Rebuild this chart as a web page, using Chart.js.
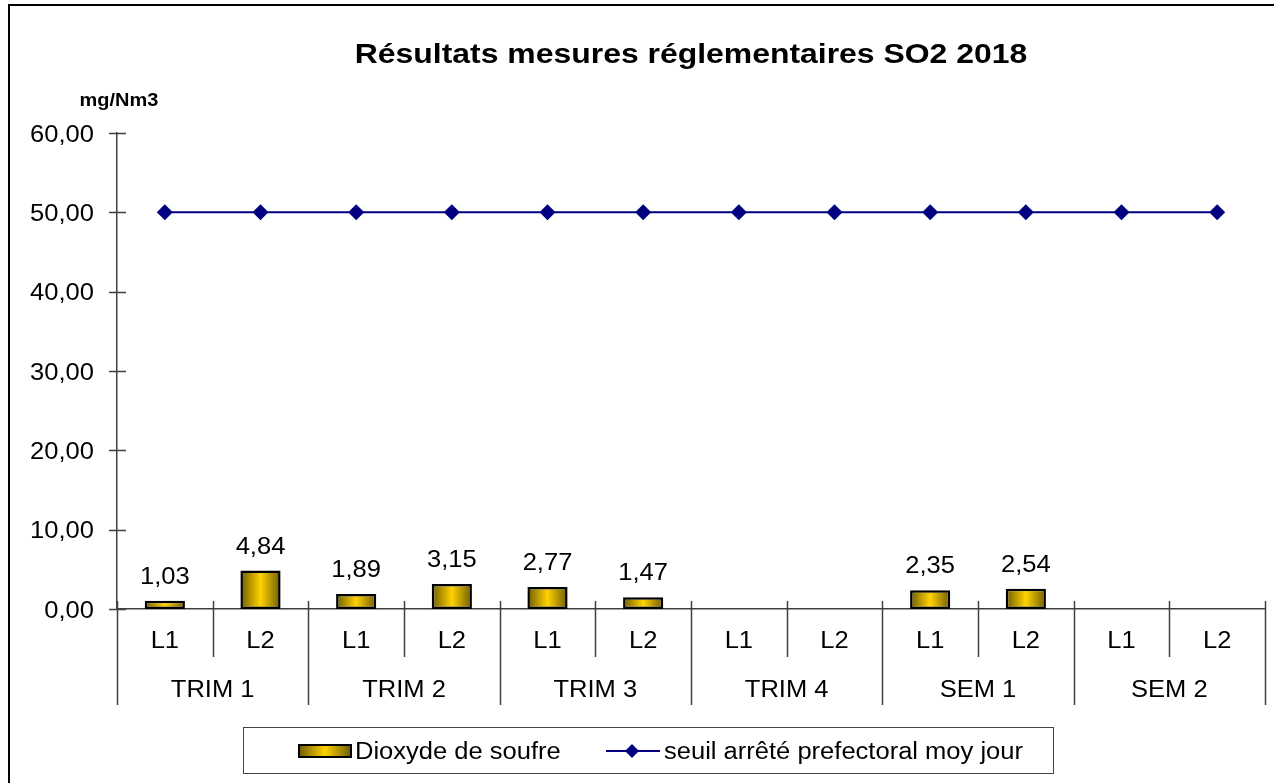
<!DOCTYPE html>
<html>
<head>
<meta charset="utf-8">
<script src="https://cdn.jsdelivr.net/npm/chart.js@4.4.1/dist/chart.umd.min.js"></script>
<style>
html,body{margin:0;padding:0;background:#fff;}
#wrap{position:relative;width:1274px;height:783px;}
canvas{display:block;}
</style>
</head>
<body>
<div id="wrap"><canvas id="c" width="1274" height="783"></canvas></div>
<script>
const subLabels = ['L1','L2','L1','L2','L1','L2','L1','L2','L1','L2','L1','L2'];
const groupLabels = ['TRIM 1','TRIM 2','TRIM 3','TRIM 4','SEM 1','SEM 2'];
const so2Values = [1.03, 4.84, 1.89, 3.15, 2.77, 1.47, null, null, 2.35, 2.54, null, null];
const thresholdValues = [50, 50, 50, 50, 50, 50, 50, 50, 50, 50, 50, 50];
const yTicks = [0, 10, 20, 30, 40, 50, 60];
const titleText = 'Résultats mesures réglementaires SO2 2018';
const unitText = 'mg/Nm3';
const seriesNames = ['Dioxyde de soufre', 'seuil arrêté prefectoral moy jour'];

const FONT = '"Liberation Sans", Arial, sans-serif';
const AXIS = '#404040';
const SX = 1.11;
const fmt = v => v.toFixed(2).replace('.', ',');

function txt(c, s, x, y, align, sx) {
  c.save();
  c.translate(x, y);
  c.scale(sx || SX, 1);
  c.textAlign = align;
  c.textBaseline = 'alphabetic';
  c.fillText(s, 0, 0);
  c.restore();
}

function makeGrad(c, x, w) {
  const g = c.createLinearGradient(x - w, 0, x + w, 0);
  g.addColorStop(0, '#6E5C00');
  g.addColorStop(0.5, '#FFD200');
  g.addColorStop(1, '#6E5C00');
  return g;
}

function barGradient(ctx) {
  const chart = ctx.chart;
  const xs = chart.scales.x;
  if (!xs || !chart.chartArea) return '#FFCC00';
  return makeGrad(chart.ctx, xs.getPixelForValue(ctx.dataIndex), 20);
}

const decor = {
  id: 'decor',
  beforeDraw(chart) {
    const c = chart.ctx;
    c.save();
    c.fillStyle = '#fff';
    c.fillRect(0, 0, chart.width, chart.height);
    c.strokeStyle = '#000';
    c.lineWidth = 2;
    c.strokeRect(9, 5, chart.width + 20, chart.height + 20);
    c.restore();
  },
  afterDraw(chart) {
    const c = chart.ctx;
    const xs = chart.scales.x, ys = chart.scales.y;
    const area = chart.chartArea;
    const y0 = ys.getPixelForValue(0);
    c.save();
    c.fillStyle = '#000';
    c.font = 'bold 28px ' + FONT;
    txt(c, titleText, (area.left + area.right) / 2, 63, 'center', 1.14);
    c.font = 'bold 18px ' + FONT;
    txt(c, unitText, 119, 106, 'center');
    c.font = '23px ' + FONT;
    yTicks.forEach(t => txt(c, fmt(t), 94, ys.getPixelForValue(t) + 8.5, 'right'));
    subLabels.forEach((s, i) => txt(c, s, xs.getPixelForValue(i), 648, 'center'));
    groupLabels.forEach((g, k) => {
      const x = (xs.getPixelForValue(2 * k) + xs.getPixelForValue(2 * k + 1)) / 2;
      txt(c, g, x, 697, 'center');
    });
    so2Values.forEach((v, i) => {
      if (v === null) return;
      txt(c, fmt(v), xs.getPixelForValue(i), ys.getPixelForValue(v) - 17, 'center');
    });
    c.strokeStyle = AXIS;
    c.lineWidth = 1.5;
    c.beginPath();
    yTicks.forEach(t => {
      const y = Math.round(ys.getPixelForValue(t)) + 0.5;
      c.moveTo(area.left - 8, y);
      c.lineTo(area.left + 9, y);
    });
    c.moveTo(area.left - 8, Math.round(y0) + 0.5);
    c.lineTo(area.left, Math.round(y0) + 0.5);
    c.stroke();
    const n = subLabels.length;
    const half = (xs.getPixelForValue(1) - xs.getPixelForValue(0)) / 2;
    c.beginPath();
    for (let i = 0; i <= n; i++) {
      const x = Math.round(i < n ? xs.getPixelForValue(i) - half : xs.getPixelForValue(n - 1) + half) + 0.5;
      c.moveTo(x, y0 - 8);
      c.lineTo(x, i % 2 === 0 ? 705 : 657);
    }
    c.stroke();
    c.strokeStyle = '#444';
    c.lineWidth = 1;
    c.strokeRect(243.5, 727.5, 810, 46);
    c.fillStyle = makeGrad(c, 325, 26);
    c.fillRect(299, 745, 52, 12);
    c.strokeStyle = '#000';
    c.lineWidth = 2;
    c.strokeRect(299, 745, 52, 12);
    c.fillStyle = '#000';
    c.font = '23px ' + FONT;
    txt(c, seriesNames[0], 355, 759, 'left');
    c.strokeStyle = '#000080';
    c.lineWidth = 2;
    c.beginPath();
    c.moveTo(606, 751); c.lineTo(660, 751); c.stroke();
    c.fillStyle = '#000080';
    c.beginPath();
    c.moveTo(632, 744); c.lineTo(639, 751); c.lineTo(632, 758); c.lineTo(625, 751); c.closePath(); c.fill();
    c.fillStyle = '#000';
    txt(c, seriesNames[1], 664, 759, 'left');
    c.restore();
  }
};

new Chart(document.getElementById('c'), {
  data: {
    labels: subLabels,
    datasets: [
      {
        type: 'line',
        label: seriesNames[1],
        data: thresholdValues,
        borderColor: '#000080',
        backgroundColor: '#000080',
        borderWidth: 2,
        pointStyle: 'rectRot',
        pointRadius: 8,
        pointHoverRadius: 8,
        pointBorderWidth: 0,
        tension: 0,
        order: 0
      },
      {
        type: 'bar',
        label: seriesNames[0],
        data: so2Values,
        backgroundColor: barGradient,
        borderColor: '#000',
        borderWidth: 2.5,
        borderSkipped: false,
        categoryPercentage: 1,
        barPercentage: 0.42,
        order: 1
      }
    ]
  },
  options: {
    responsive: false,
    animation: false,
    events: [],
    layout: { padding: { left: 0, right: 9, top: 133, bottom: 0 } },
    plugins: { legend: { display: false }, title: { display: false }, tooltip: { enabled: false } },
    scales: {
      x: {
        type: 'category',
        offset: true,
        grid: { display: false },
        border: { display: true, color: AXIS, width: 1.5 },
        ticks: { display: false },
        afterFit: s => { s.height = 174; }
      },
      y: {
        min: 0, max: 60,
        grid: { display: false, drawTicks: false },
        border: { display: true, color: AXIS, width: 1.5 },
        afterBuildTicks: s => { s.ticks = yTicks.map(v => ({ value: v })); },
        ticks: { display: false },
        afterFit: s => { s.width = 117; }
      }
    }
  },
  plugins: [decor]
});
</script>
</body>
</html>
